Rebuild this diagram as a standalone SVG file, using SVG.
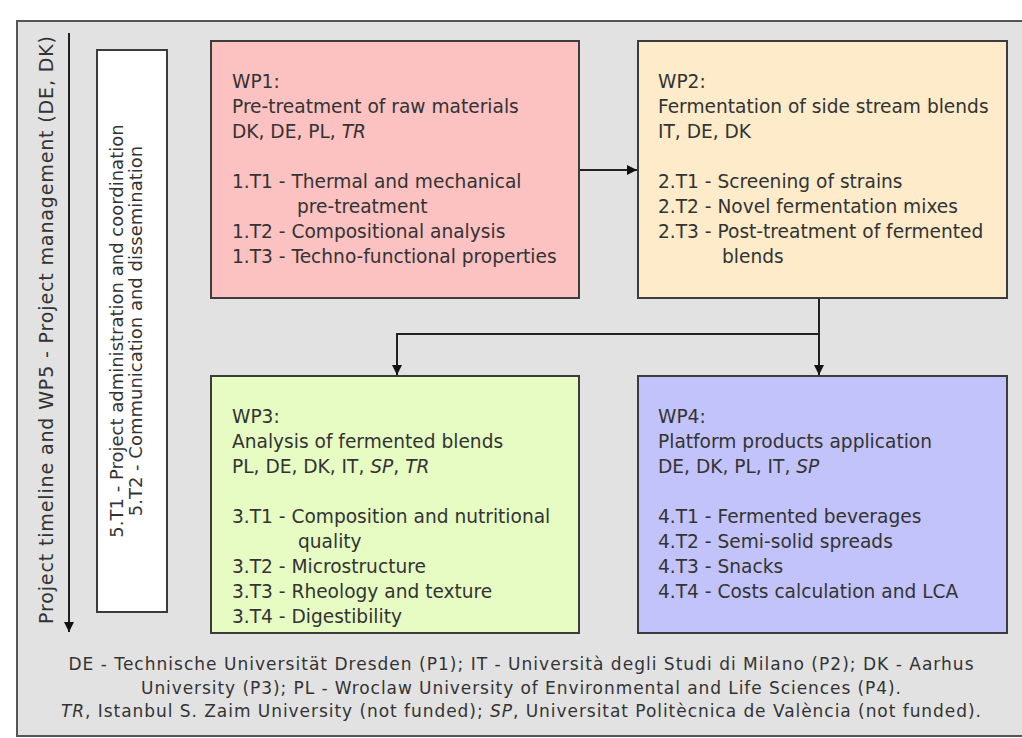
<svg xmlns="http://www.w3.org/2000/svg" width="1022" height="738" viewBox="0 0 1022 738">
<defs>
<marker id="ah" viewBox="0 0 10 10" refX="10" refY="5" markerWidth="10" markerHeight="10" markerUnits="userSpaceOnUse" orient="auto">
<path d="M0,0 L10,5 L0,10 z" fill="#111"/>
</marker>
<style>
.t{font-family:"DejaVu Sans","Liberation Sans",sans-serif;font-size:18.6px;fill:#333}
.r{font-family:"DejaVu Sans","Liberation Sans",sans-serif;fill:#333}
.box{stroke:#3c3c3c;stroke-width:2}
.c{fill:none;stroke:#222;stroke-width:2}
</style>
</defs>
<rect x="0" y="0" width="1022" height="738" fill="#ffffff"/>
<rect x="17" y="21" width="1020" height="715" fill="#e2e2e2" stroke="#555" stroke-width="2"/>

<g id="timeline">
<line class="c" x1="69" y1="33" x2="69" y2="632" marker-end="url(#ah)"/>
<text class="r" font-size="19" transform="translate(53,330) rotate(-90)" text-anchor="middle" textLength="588">Project timeline and WP5 - Project management (DE, DK)</text>
</g>

<g id="wp5">
<rect class="box" x="97" y="50" width="70" height="562" fill="#ffffff"/>
<text class="r" font-size="18" transform="translate(123,331) rotate(-90)" text-anchor="middle">5.T1 - Project administration and coordination</text>
<text class="r" font-size="18" transform="translate(142,331) rotate(-90)" text-anchor="middle">5.T2 - Communication and dissemination</text>
</g>

<g id="wp1">
<rect class="box" x="211" y="41" width="368" height="257" fill="#fcc1c1"/>
<text class="t" x="232" y="88">WP1:</text>
<text class="t" x="232" y="113">Pre-treatment of raw materials</text>
<text class="t" x="232" y="138">DK, DE, PL, <tspan font-style="italic">TR</tspan></text>
<text class="t" x="232" y="188">1.T1 - Thermal and mechanical</text>
<text class="t" x="297" y="213">pre-treatment</text>
<text class="t" x="232" y="238">1.T2 - Compositional analysis</text>
<text class="t" x="232" y="263">1.T3 - Techno-functional properties</text>
</g>

<g id="wp2">
<rect class="box" x="638" y="41" width="369" height="257" fill="#fdebca"/>
<text class="t" x="658" y="88">WP2:</text>
<text class="t" x="658" y="113">Fermentation of side stream blends</text>
<text class="t" x="658" y="138">IT, DE, DK</text>
<text class="t" x="658" y="188">2.T1 - Screening of strains</text>
<text class="t" x="658" y="213">2.T2 - Novel fermentation mixes</text>
<text class="t" x="658" y="238">2.T3 - Post-treatment of fermented</text>
<text class="t" x="722" y="263">blends</text>
</g>

<g id="wp3">
<rect class="box" x="211" y="376" width="368" height="257" fill="#e6fcc2"/>
<text class="t" x="232" y="423">WP3:</text>
<text class="t" x="232" y="448">Analysis of fermented blends</text>
<text class="t" x="232" y="473">PL, DE, DK, IT, <tspan font-style="italic">SP</tspan>, <tspan font-style="italic">TR</tspan></text>
<text class="t" x="232" y="523">3.T1 - Composition and nutritional</text>
<text class="t" x="298" y="548">quality</text>
<text class="t" x="232" y="573">3.T2 - Microstructure</text>
<text class="t" x="232" y="598">3.T3 - Rheology and texture</text>
<text class="t" x="232" y="623">3.T4 - Digestibility</text>
</g>

<g id="wp4">
<rect class="box" x="638" y="376" width="369" height="257" fill="#c3c3fb"/>
<text class="t" x="658" y="423">WP4:</text>
<text class="t" x="658" y="448">Platform products application</text>
<text class="t" x="658" y="473">DE, DK, PL, IT, <tspan font-style="italic">SP</tspan></text>
<text class="t" x="658" y="523">4.T1 - Fermented beverages</text>
<text class="t" x="658" y="548">4.T2 - Semi-solid spreads</text>
<text class="t" x="658" y="573">4.T3 - Snacks</text>
<text class="t" x="658" y="598">4.T4 - Costs calculation and LCA</text>
</g>

<g id="connectors">
<line class="c" x1="580" y1="170" x2="637" y2="170" marker-end="url(#ah)"/>
<line class="c" x1="819" y1="299" x2="819" y2="375" marker-end="url(#ah)"/>
<polyline class="c" points="819,334 397,334 397,375" marker-end="url(#ah)"/>
</g>

<g id="legend">
<text class="t" font-size="17" style="font-size:17px" x="521" y="670" text-anchor="middle" textLength="905">DE - Technische Universität Dresden (P1); IT - Università degli Studi di Milano (P2); DK - Aarhus</text>
<text class="t" style="font-size:17px" x="521" y="694" text-anchor="middle" textLength="760">University (P3); PL - Wroclaw University of Environmental and Life Sciences (P4).</text>
<text class="t" style="font-size:17px" x="521" y="717" text-anchor="middle" textLength="920"><tspan font-style="italic">TR</tspan>, Istanbul S. Zaim University (not funded); <tspan font-style="italic">SP</tspan>, Universitat Politècnica de València (not funded).</text>
</g>
</svg>
